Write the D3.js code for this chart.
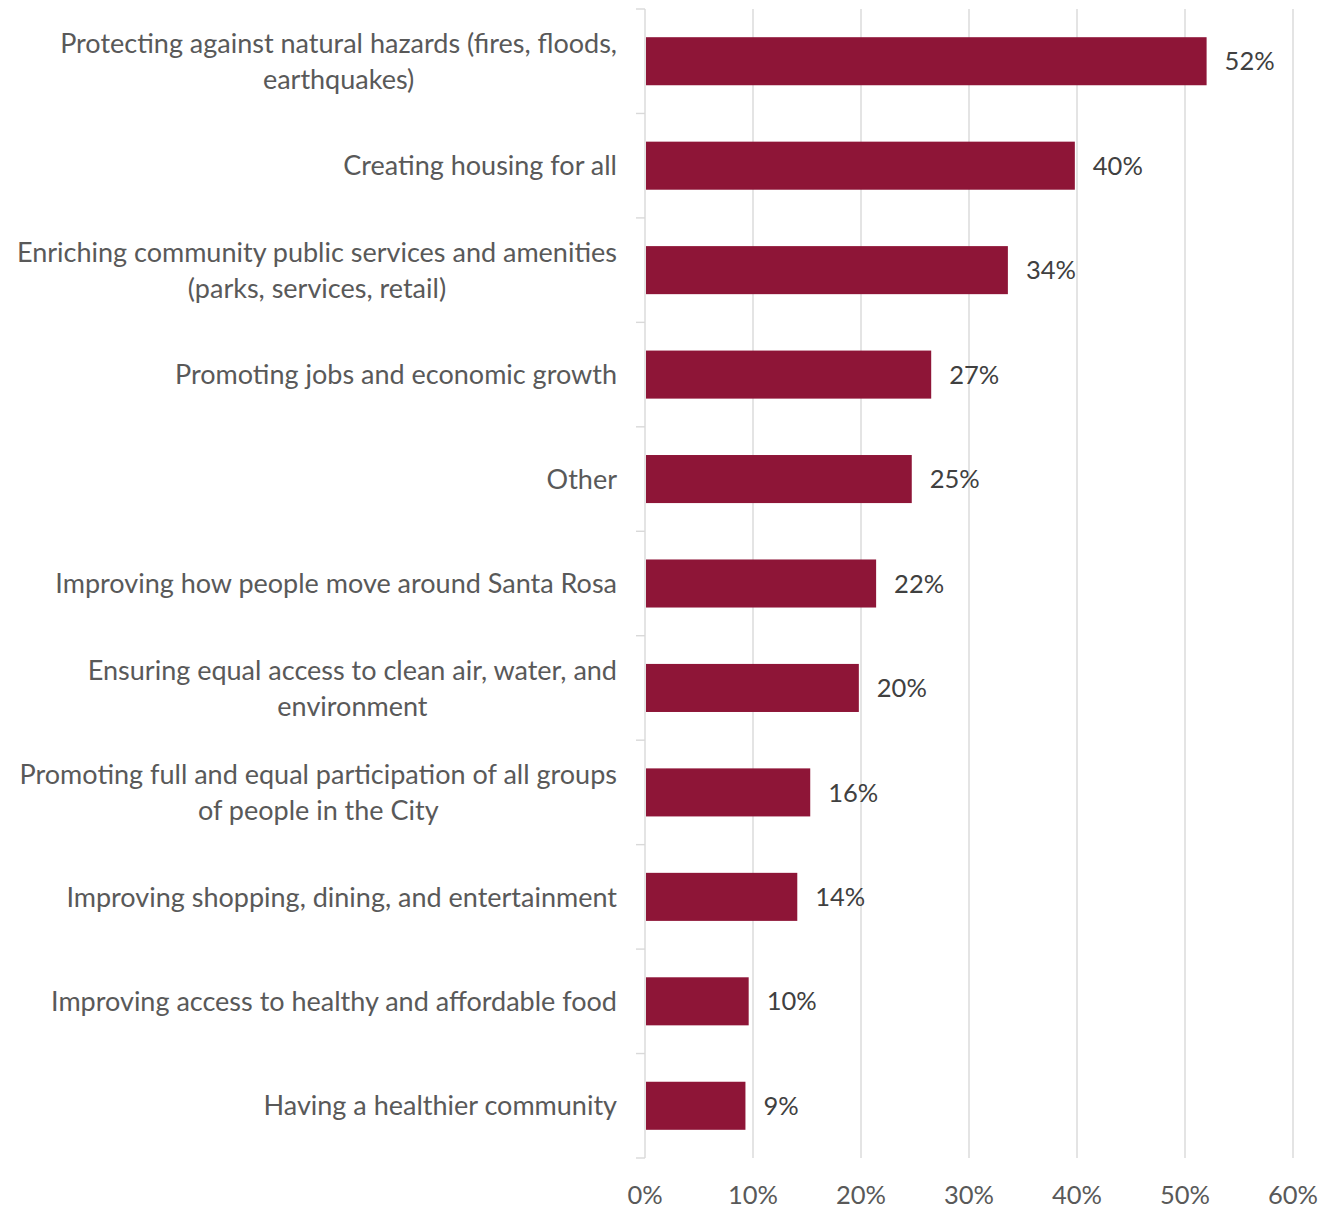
<!DOCTYPE html>
<html>
<head>
<meta charset="utf-8">
<script src="https://cdn.jsdelivr.net/npm/d3@7"></script>
<style>
  html, body { margin: 0; padding: 0; background: #fff; }
  svg { display: block; }
</style>
</head>
<body>
<div id="chart"></div>
<script>
const categories = [
  "Protecting against natural hazards (fires, floods,\nearthquakes)",
  "Creating housing for all",
  "Enriching community public services and amenities\n(parks, services, retail)",
  "Promoting jobs and economic growth",
  "Other",
  "Improving how people move around Santa Rosa",
  "Ensuring equal access to clean air, water, and\nenvironment",
  "Promoting full and equal participation of all groups\nof people in the City",
  "Improving shopping, dining, and entertainment",
  "Improving access to healthy and affordable food",
  "Having a healthier community"
];
const values = [52.0, 39.8, 33.6, 26.5, 24.7, 21.4, 19.8, 15.3, 14.1, 9.6, 9.3];
const valueLabels = ["52%", "40%", "34%", "27%", "25%", "22%", "20%", "16%", "14%", "10%", "9%"];
const xTicks = [0, 10, 20, 30, 40, 50, 60];

(function () {
const W = 1333, H = 1209;
const mLeft = 645, mRight = 1293, mTop = 9, mBottom = 1158;
const font = "Lato, 'Open Sans', sans-serif";

const svg = d3.select("#chart").append("svg").attr("width", W).attr("height", H);

const x = d3.scaleLinear().domain([0, 60]).range([mLeft, mRight]);
const y = d3.scaleBand().domain(categories).range([mTop, mBottom]).paddingInner(0.54).paddingOuter(0.27);

// gridlines
svg.append("g").selectAll("line").data(xTicks.filter(t => t > 0)).join("line")
  .attr("x1", d => x(d)).attr("x2", d => x(d))
  .attr("y1", mTop).attr("y2", mBottom)
  .attr("stroke", "#d9d9d9").attr("stroke-width", 1.4);

// y axis line + ticks at band boundaries
const step = y.step();
const boundaries = d3.range(categories.length + 1).map(i => mTop + i * step);
svg.append("line").attr("x1", mLeft).attr("x2", mLeft).attr("y1", mTop).attr("y2", mBottom)
  .attr("stroke", "#d9d9d9").attr("stroke-width", 1.4);
svg.append("g").selectAll("line").data(boundaries).join("line")
  .attr("x1", mLeft - 9).attr("x2", mLeft)
  .attr("y1", d => d).attr("y2", d => d)
  .attr("stroke", "#d9d9d9").attr("stroke-width", 1.4);

// bars
svg.append("g").selectAll("rect").data(categories).join("rect")
  .attr("x", x(0) + 1)
  .attr("y", d => y(d))
  .attr("width", (d, i) => x(values[i]) - x(0) - 1)
  .attr("height", y.bandwidth())
  .attr("fill", "#8E1537");

// value labels
svg.append("g").selectAll("text").data(categories).join("text")
  .attr("x", (d, i) => x(values[i]) + 18)
  .attr("y", d => y(d) + y.bandwidth() / 2)
  .attr("dy", "0.36em")
  .attr("font-family", font).attr("font-size", 25.5)
  .attr("fill", "#404040")
  .text((d, i) => valueLabels[i]);

// category labels (block right-aligned, lines centered within block)
const labelRight = 617, lineH = 36;
categories.forEach(cat => {
  const lines = cat.split("\n");
  const cy = y(cat) + y.bandwidth() / 2;
  const g = svg.append("g");
  const texts = lines.map((ln, i) => g.append("text")
    .attr("y", cy + (i - (lines.length - 1) / 2) * lineH)
    .attr("dy", "0.36em")
    .attr("font-family", font).attr("font-size", 27)
    .attr("fill", "#595959")
    .attr("text-anchor", "middle")
    .text(ln));
  const maxW = d3.max(texts, t => t.node().getComputedTextLength());
  texts.forEach(t => t.attr("x", labelRight - maxW / 2));
});

// x tick labels
svg.append("g").selectAll("text").data(xTicks).join("text")
  .attr("x", d => x(d))
  .attr("y", 1195)
  .attr("dy", "0.36em")
  .attr("text-anchor", "middle")
  .attr("font-family", font).attr("font-size", 25.5)
  .attr("fill", "#595959")
  .text(d => d + "%");
})();
</script>
</body>
</html>
